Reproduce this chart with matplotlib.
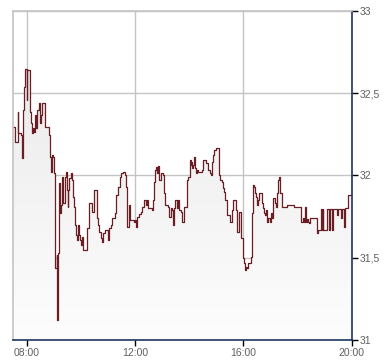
import numpy as np
import matplotlib.pyplot as plt
from matplotlib.colors import LinearSegmentedColormap
from matplotlib.ticker import FuncFormatter

# intraday price ticks (time, price), step series
times = ["07:31", "07:34", "07:40", "07:42", "07:48", "07:50", "07:52", "07:54", "07:57", "08:00",
         "08:02", "08:07", "08:10", "08:12", "08:14", "08:16", "08:19", "08:21", "08:23", "08:27",
         "08:30", "08:32", "08:34", "08:41", "08:50", "08:52", "08:54", "08:56", "08:58", "09:01",
         "09:03", "09:04", "09:07", "09:08", "09:09", "09:11", "09:12", "09:15", "09:17", "09:19",
         "09:21", "09:26", "09:27", "09:29", "09:31", "09:32", "09:35", "09:38", "09:40", "09:42",
         "09:45", "09:47", "09:49", "09:52", "09:53", "09:55", "09:58", "10:00", "10:03", "10:05",
         "10:13", "10:18", "10:24", "10:30", "10:35", "10:39", "10:41", "10:45", "10:48", "10:50",
         "10:54", "11:01", "11:03", "11:07", "11:09", "11:16", "11:18", "11:23", "11:27", "11:30",
         "11:33", "11:38", "11:40", "11:42", "11:43", "11:46", "11:47", "11:50", "11:58", "12:00",
         "12:02", "12:04", "12:09", "12:13", "12:15", "12:20", "12:24", "12:27", "12:29", "12:37",
         "12:40", "12:42", "12:44", "12:46", "12:48", "12:50", "12:52", "12:54", "12:57", "13:03",
         "13:05", "13:06", "13:14", "13:16", "13:19", "13:22", "13:25", "13:27", "13:28", "13:32",
         "13:35", "13:37", "13:42", "13:45", "13:48", "13:55", "13:58", "14:01", "14:02", "14:04",
         "14:05", "14:07", "14:09", "14:11", "14:13", "14:15", "14:17", "14:20", "14:29", "14:31",
         "14:37", "14:41", "14:42", "14:45", "14:48", "14:51", "14:53", "14:55", "15:00", "15:06",
         "15:09", "15:12", "15:15", "15:17", "15:19", "15:23", "15:30", "15:34", "15:36", "15:43",
         "15:45", "15:51", "15:54", "16:00", "16:01", "16:03", "16:05", "16:08", "16:11", "16:17",
         "16:19", "16:20", "16:22", "16:24", "16:25", "16:28", "16:29", "16:32", "16:35", "16:40",
         "16:44", "16:46", "16:48", "16:50", "16:53", "16:55", "16:59", "17:01", "17:04", "17:06",
         "17:10", "17:12", "17:15", "17:17", "17:19", "17:22", "17:25", "17:37", "17:52", "18:07",
         "18:12", "18:14", "18:16", "18:18", "18:20", "18:22", "18:25", "18:27", "18:42", "18:43",
         "18:45", "18:51", "18:53", "18:55", "18:57", "19:00", "19:06", "19:09", "19:12", "19:15",
         "19:19", "19:27", "19:29", "19:36", "19:39", "19:42", "19:44", "19:51", "19:59"]
prices = [32.295, 32.204, 32.386, 32.258, 32.246, 32.106, 32.398, 32.538, 32.647, 32.459,
          32.641, 32.386, 32.319, 32.258, 32.289, 32.264, 32.368, 32.289, 32.398, 32.441,
          32.319, 32.368, 32.441, 32.295, 32.246, 32.112, 32.021, 32.125, 32.112, 32.015,
          32.003, 31.438, 31.517, 31.122, 31.529, 31.717, 31.954, 31.772, 31.821, 31.991,
          31.833, 31.991, 32.021, 31.912, 31.809, 31.912, 31.985, 32.015, 31.973, 31.869,
          31.809, 31.699, 31.638, 31.608, 31.699, 31.638, 31.608, 31.578, 31.626, 31.547,
          31.681, 31.833, 31.778, 31.912, 31.742, 31.699, 31.657, 31.620, 31.596, 31.650,
          31.669, 31.608, 31.681, 31.699, 31.742, 31.772, 31.881, 31.930, 31.991, 32.015,
          32.021, 32.003, 31.930, 31.851, 31.687, 31.699, 31.821, 31.729, 31.717, 31.729,
          31.687, 31.748, 31.766, 31.778, 31.809, 31.851, 31.821, 31.851, 31.802, 31.790,
          31.851, 31.960, 32.033, 32.052, 32.015, 32.046, 32.058, 31.973, 32.015, 32.003,
          31.894, 31.821, 31.809, 31.748, 31.802, 31.790, 31.699, 31.802, 31.851, 31.802,
          31.851, 31.790, 31.778, 31.717, 31.809, 31.973, 31.991, 32.021, 32.094, 32.064,
          32.082, 32.046, 32.064, 32.112, 32.046, 32.015, 32.033, 32.021, 32.033, 32.094,
          32.076, 32.064, 32.033, 32.015, 32.003, 32.082, 32.125, 32.155, 32.167, 32.003,
          31.973, 31.960, 31.924, 31.900, 31.851, 31.760, 31.717, 31.790, 31.851, 31.790,
          31.657, 31.778, 31.620, 31.498, 31.468, 31.426, 31.444, 31.438, 31.468, 31.505,
          31.626, 31.772, 31.942, 31.930, 31.894, 31.869, 31.821, 31.851, 31.894, 31.833,
          31.802, 31.772, 31.760, 31.790, 31.717, 31.742, 31.717, 31.772, 31.742, 31.863,
          31.833, 31.809, 31.894, 31.973, 31.991, 31.894, 31.809, 31.821, 31.809, 31.717,
          31.742, 31.717, 31.809, 31.717, 31.736, 31.717, 31.711, 31.742, 31.736, 31.650,
          31.669, 31.796, 31.669, 31.796, 31.669, 31.669, 31.796, 31.669, 31.796, 31.669,
          31.796, 31.760, 31.796, 31.742, 31.796, 31.687, 31.802, 31.881, 31.881]

x_ticks = [8, 12, 16, 20]
x_labels = ["08:00", "12:00", "16:00", "20:00"]
y_ticks = [31, 31.5, 32, 32.5, 33]

hours = np.array([int(t[:2]) + int(t[3:]) / 60 for t in times])
vals = np.array(prices)

fig = plt.figure(figsize=(3.9, 3.64), dpi=100)
ax = fig.add_axes([0.0333, 0.0659, 0.869, 0.904])
ax.set_xlim(7.5, 20)
ax.set_ylim(31, 33)

# gradient fill under the step line
coll = ax.fill_between(hours, vals, 31, step='post', facecolor='none', edgecolor='none')
cmap = LinearSegmentedColormap.from_list('g', ['#fdfdfd', '#ebebeb'])
grad = np.linspace(0, 1, 256).reshape(-1, 1)
im = ax.imshow(grad, cmap=cmap, origin='lower', aspect='auto',
               extent=[7.5, 20, 31, vals.max()], zorder=1)
im.set_clip_path(coll.get_paths()[0], ax.transData)

ax.step(hours, vals, where='post', color='#6a1e23', lw=0.9, zorder=3)

ax.set_xticks(x_ticks)
ax.set_xticklabels(x_labels)
ax.set_yticks(y_ticks)
ax.yaxis.set_major_formatter(FuncFormatter(lambda v, p: ('%g' % v).replace('.', ',')))
ax.yaxis.tick_right()
ax.grid(True, color='#c4c4c4', lw=1)
ax.set_axisbelow(True)

ax.spines['left'].set_color('#c4c4c4')
ax.spines['top'].set_color('#c4c4c4')
ax.spines['right'].set_color('#1c355e')
ax.spines['bottom'].set_color('#1c355e')
for s in ax.spines.values():
    s.set_linewidth(1.2)
    s.set_zorder(4)

ax.tick_params(axis='both', colors='black', length=4, width=1,
               labelsize=7.5, labelcolor='#606060', pad=1.5)
for lab in ax.get_xticklabels() + ax.get_yticklabels():
    lab.set_family('Liberation Sans')

fig.savefig('out.png', dpi=100)
